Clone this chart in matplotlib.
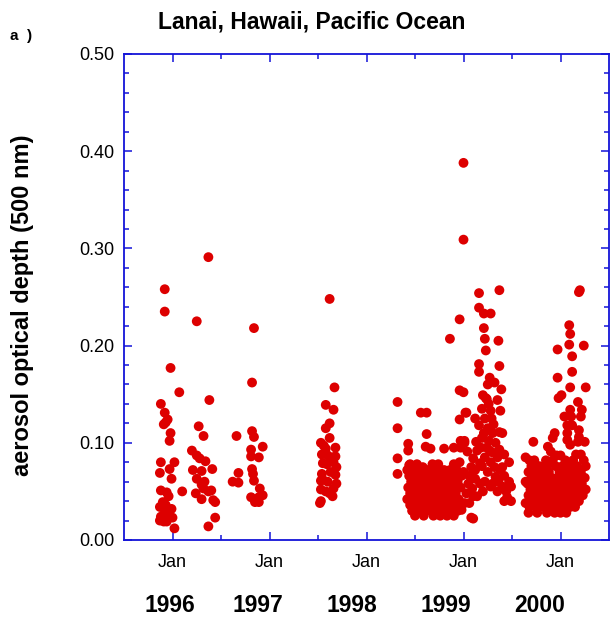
import matplotlib
matplotlib.use("Agg")
import matplotlib.pyplot as plt
from matplotlib.ticker import MultipleLocator, FixedLocator

# decimal year / aerosol optical depth, one list per season
t_1996 = [1995.92, 1995.92, 1995.98, 1996.07, 1995.88, 1995.92, 1995.95, 1995.93, 1995.91,
          1995.98, 1995.97, 1995.88, 1996.02, 1995.97, 1995.87, 1995.99, 1996.10, 1995.88,
          1995.94, 1995.96, 1995.90, 1995.93, 1995.87, 1995.99, 1995.92, 1995.96, 1995.88,
          1996.00, 1995.94, 1995.87, 1995.91, 1996.02,
          1996.37, 1996.25, 1996.38, 1996.27, 1996.32, 1996.20, 1996.25, 1996.28, 1996.34,
          1996.41, 1996.21, 1996.30, 1996.25, 1996.33, 1996.30, 1996.24, 1996.32, 1996.37,
          1996.40, 1996.30, 1996.42, 1996.44, 1996.44, 1996.37]
aod_1996 = [0.258, 0.235, 0.177, 0.152, 0.140, 0.131, 0.124, 0.121, 0.119,
            0.110, 0.102, 0.080, 0.080, 0.073, 0.069, 0.063, 0.050, 0.051,
            0.049, 0.045, 0.039, 0.036, 0.034, 0.032, 0.028, 0.025, 0.024,
            0.023, 0.019, 0.020, 0.019, 0.012,
            0.291, 0.225, 0.144, 0.117, 0.107, 0.092, 0.087, 0.084, 0.081,
            0.073, 0.072, 0.071, 0.063, 0.060, 0.057, 0.048, 0.053, 0.050,
            0.051, 0.042, 0.041, 0.039, 0.023, 0.014]

t_1997 = [1996.84, 1996.82, 1996.66, 1996.82, 1996.84, 1996.93, 1996.81, 1996.81, 1996.89,
          1996.82, 1996.83, 1996.68, 1996.62, 1996.68, 1996.84, 1996.90, 1996.93, 1996.89,
          1996.81, 1996.85, 1996.89,
          1997.62, 1997.67, 1997.58, 1997.66, 1997.62, 1997.58, 1997.62, 1997.53, 1997.56,
          1997.68, 1997.58, 1997.54, 1997.68, 1997.60, 1997.65, 1997.55, 1997.66, 1997.69,
          1997.59, 1997.54, 1997.63, 1997.68, 1997.53, 1997.60, 1997.69, 1997.55, 1997.53,
          1997.58, 1997.66, 1997.62, 1997.65, 1997.52, 1997.53]
aod_1997 = [0.218, 0.162, 0.107, 0.112, 0.106, 0.096, 0.093, 0.086, 0.085,
            0.073, 0.068, 0.069, 0.060, 0.059, 0.061, 0.053, 0.046, 0.044,
            0.044, 0.039, 0.039,
            0.248, 0.157, 0.139, 0.134, 0.120, 0.115, 0.105, 0.100, 0.097,
            0.095, 0.094, 0.088, 0.086, 0.087, 0.085, 0.079, 0.080, 0.075,
            0.078, 0.068, 0.070, 0.067, 0.061, 0.060, 0.058, 0.062, 0.052,
            0.050, 0.053, 0.048, 0.045, 0.038, 0.040]

t_1999 = [1998.32, 1998.32, 1998.32, 1998.32, 1998.56, 1998.62, 1998.62, 1998.43, 1998.43,
          1998.61, 1998.66, 1998.44, 1998.49, 1998.58, 1998.80,
          1998.96, 1998.86, 1998.96, 1999.00, 1999.03, 1998.96, 1998.97, 1999.01, 1998.90,
          1998.97, 1999.00, 1999.00,
          1999.16, 1999.37, 1999.16, 1999.21, 1999.28, 1999.21, 1999.22, 1999.23, 1999.36,
          1999.16, 1999.16, 1999.37, 1999.27, 1999.32, 1999.25, 1999.39, 1999.20, 1999.23,
          1999.35, 1999.19, 1999.28, 1999.38, 1999.02, 1999.16, 1999.31, 1999.37, 1999.40,
          1999.19, 1999.26, 1999.33, 1999.01, 1999.13, 1999.14, 1999.04, 1999.37, 1999.42,
          1999.47, 1999.10, 1999.17, 1999.19, 1998.96, 1999.00, 1999.06, 1999.12, 1999.38,
          1999.42, 1999.47, 1999.49, 1999.17, 1999.09, 1999.28, 1999.45, 1999.42, 1999.49,
          1999.03, 1999.01, 1999.06, 1999.08, 1999.10, 1998.96, 1998.98,
          1999.12, 1999.22, 1999.25, 1999.30, 1999.24, 1999.30, 1999.35, 1999.40, 1999.28,
          1999.22, 1999.18, 1999.08, 1999.12, 1999.25, 1999.33, 1999.30, 1999.22, 1999.20,
          1999.14, 1999.35, 1999.40, 1999.44, 1999.05, 1999.10, 1999.24, 1999.26, 1999.29,
          1999.21, 1999.27, 1999.32, 1999.36,
          1998.45, 1998.52, 1998.68, 1998.74, 1998.90,
          1998.42, 1998.55, 1998.63, 1998.72, 1998.80, 1998.86, 1998.93,
          1998.44, 1998.50, 1998.57, 1998.65, 1998.70, 1998.77, 1998.84, 1998.91, 1998.98,
          1998.46, 1998.53, 1998.60, 1998.66, 1998.73, 1998.79, 1998.87, 1998.94,
          1998.43, 1998.49, 1998.56, 1998.62, 1998.69, 1998.75, 1998.82, 1998.89, 1998.97,
          1998.45, 1998.52, 1998.59, 1998.65, 1998.71, 1998.78, 1998.85, 1998.92,
          1998.42, 1998.48, 1998.55, 1998.61, 1998.68, 1998.74, 1998.81, 1998.88, 1998.95,
          1998.45, 1998.51, 1998.58, 1998.64, 1998.70, 1998.77, 1998.84, 1998.91,
          1998.47, 1998.54, 1998.62, 1998.67, 1998.73, 1998.80, 1998.87, 1998.94,
          1998.50, 1998.59, 1998.69, 1998.76, 1998.83, 1998.90]
aod_1999 = [0.142, 0.115, 0.084, 0.068, 0.131, 0.131, 0.109, 0.099, 0.092,
            0.096, 0.094, 0.077, 0.072, 0.075, 0.094,
            0.227, 0.207, 0.154, 0.152, 0.131, 0.124, 0.102, 0.102, 0.095,
            0.095, 0.388, 0.309,
            0.254, 0.257, 0.239, 0.233, 0.233, 0.218, 0.207, 0.195, 0.205,
            0.181, 0.173, 0.179, 0.167, 0.162, 0.160, 0.155, 0.149, 0.146,
            0.144, 0.135, 0.133, 0.133, 0.131, 0.118, 0.119, 0.111, 0.110,
            0.105, 0.102, 0.100, 0.100, 0.101, 0.092, 0.091, 0.093, 0.088,
            0.080, 0.084, 0.079, 0.076, 0.080, 0.070, 0.066, 0.063, 0.072,
            0.066, 0.060, 0.055, 0.058, 0.053, 0.055, 0.044, 0.040, 0.040,
            0.048, 0.038, 0.038, 0.023, 0.022, 0.038, 0.031,
            0.125, 0.125, 0.115, 0.110, 0.095, 0.090, 0.085, 0.075, 0.080,
            0.085, 0.095, 0.075, 0.072, 0.070, 0.065, 0.058, 0.060, 0.050,
            0.045, 0.050, 0.055, 0.050, 0.058, 0.045, 0.145, 0.140, 0.125,
            0.110, 0.092, 0.075, 0.060,
            0.078, 0.078, 0.078, 0.078, 0.078,
            0.072, 0.072, 0.072, 0.072, 0.072, 0.072, 0.072,
            0.066, 0.066, 0.066, 0.066, 0.066, 0.066, 0.066, 0.066, 0.066,
            0.060, 0.060, 0.060, 0.060, 0.060, 0.060, 0.060, 0.060,
            0.054, 0.054, 0.054, 0.054, 0.054, 0.054, 0.054, 0.054, 0.054,
            0.048, 0.048, 0.048, 0.048, 0.048, 0.048, 0.048, 0.048,
            0.042, 0.042, 0.042, 0.042, 0.042, 0.042, 0.042, 0.042, 0.042,
            0.036, 0.036, 0.036, 0.036, 0.036, 0.036, 0.036, 0.036,
            0.030, 0.030, 0.030, 0.030, 0.030, 0.030, 0.030, 0.030,
            0.025, 0.025, 0.025, 0.025, 0.025, 0.025]

t_2000 = [2000.19, 2000.20, 2000.09, 2000.10, 2000.09, 2000.12, 1999.97, 2000.24, 1999.97,
          2000.12, 2000.10, 2000.26, 2000.01, 1999.98, 2000.18, 2000.10, 2000.22, 2000.11,
          2000.21, 2000.04, 2000.07, 2000.12, 2000.19, 2000.19, 2000.07, 2000.07, 1999.94,
          1999.92, 2000.25, 2000.18, 2000.10, 1999.72, 1999.87, 1999.90, 1999.96, 2000.00,
          2000.21, 2000.16, 1999.64, 1999.64, 1999.64,
          1999.68, 1999.73, 1999.85, 1999.92, 2000.05, 2000.13, 2000.24,
          1999.70, 1999.78, 1999.86, 1999.95, 2000.02, 2000.09, 2000.17, 2000.26,
          1999.67, 1999.74, 1999.81, 1999.88, 1999.99, 2000.06, 2000.14, 2000.21,
          1999.70, 1999.77, 1999.84, 1999.91, 1999.97, 2000.04, 2000.11, 2000.18, 2000.25,
          1999.66, 1999.73, 1999.80, 1999.87, 1999.94, 2000.01, 2000.08, 2000.15, 2000.22,
          1999.69, 1999.76, 1999.83, 1999.90, 1999.97, 2000.04, 2000.11, 2000.18, 2000.26,
          1999.67, 1999.74, 1999.81, 1999.88, 1999.95, 2000.02, 2000.09, 2000.16, 2000.23,
          1999.70, 1999.77, 1999.84, 1999.91, 1999.98, 2000.05, 2000.12, 2000.19,
          1999.68, 1999.75, 1999.82, 1999.89, 1999.96, 2000.03, 2000.10, 2000.15,
          1999.67, 1999.76, 1999.86, 1999.94, 2000.00, 2000.06]
aod_2000 = [0.255, 0.257, 0.221, 0.212, 0.201, 0.189, 0.196, 0.200, 0.167,
            0.173, 0.157, 0.157, 0.149, 0.146, 0.142, 0.134, 0.134, 0.127,
            0.127, 0.127, 0.118, 0.118, 0.113, 0.106, 0.110, 0.103, 0.110,
            0.105, 0.101, 0.101, 0.098, 0.101, 0.096, 0.091, 0.087, 0.087,
            0.088, 0.088, 0.085, 0.060, 0.038,
            0.082, 0.082, 0.082, 0.082, 0.082, 0.082, 0.082,
            0.076, 0.076, 0.076, 0.076, 0.076, 0.076, 0.076, 0.076,
            0.070, 0.070, 0.070, 0.070, 0.070, 0.070, 0.070, 0.070,
            0.064, 0.064, 0.064, 0.064, 0.064, 0.064, 0.064, 0.064, 0.064,
            0.058, 0.058, 0.058, 0.058, 0.058, 0.058, 0.058, 0.058, 0.058,
            0.052, 0.052, 0.052, 0.052, 0.052, 0.052, 0.052, 0.052, 0.052,
            0.046, 0.046, 0.046, 0.046, 0.046, 0.046, 0.046, 0.046, 0.046,
            0.040, 0.040, 0.040, 0.040, 0.040, 0.040, 0.040, 0.040,
            0.034, 0.034, 0.034, 0.034, 0.034, 0.034, 0.034, 0.034,
            0.028, 0.028, 0.028, 0.028, 0.028, 0.028]

years = ["1996", "1997", "1998", "1999", "2000"]
year_label_x = [1995.97, 1996.88, 1997.85, 1998.82, 1999.79]
jan_ticks = [1996, 1997, 1998, 1999, 2000]

plt.rcParams["font.family"] = ["Liberation Sans", "DejaVu Sans"]
blue = "#1414d8"
red = "#dd0000"

fig = plt.figure(figsize=(6.10, 6.24), dpi=100)
ax = fig.add_axes([124 / 610, 84 / 624, 485 / 610, 486 / 624])

for t, a in [(t_1996, aod_1996), (t_1997, aod_1997), (t_1999, aod_1999), (t_2000, aod_2000)]:
    ax.scatter(t, a, s=50, color=red, edgecolors="none", zorder=3)

ax.set_xlim(1995.5, 2000.5)
ax.set_ylim(0, 0.5)
ax.xaxis.set_major_locator(FixedLocator(jan_ticks))
ax.xaxis.set_minor_locator(FixedLocator([1996.5, 1997.5, 1998.5, 1999.5]))
ax.set_xticklabels(["Jan"] * len(jan_ticks))
ax.yaxis.set_major_locator(MultipleLocator(0.1))
ax.yaxis.set_minor_locator(MultipleLocator(0.02))
ax.yaxis.set_major_formatter(plt.FuncFormatter(lambda v, p: "%.2f" % v))

for s in ax.spines.values():
    s.set_color(blue)
    s.set_linewidth(1.3)
ax.tick_params(which="both", direction="in", top=True, right=True, color=blue,
               labelsize=13, labelcolor="black")
ax.tick_params(which="major", length=6, width=1.1)
ax.tick_params(which="minor", length=3.5, width=1.1)
ax.tick_params(axis="x", which="major", pad=10)
ax.tick_params(axis="y", which="major", pad=7)

ax.set_ylabel("aerosol optical depth (500 nm)", fontsize=17, fontweight="bold")
ax.yaxis.set_label_coords(-0.186, 0.484)

for lab, xp in zip(years, year_label_x):
    ax.text(xp, -0.067, lab, transform=ax.transData, ha="center", va="center",
            fontsize=16.5, fontweight="bold", clip_on=False)

fig.text(312 / 610, 1 - 22 / 624, "Lanai, Hawaii, Pacific Ocean", ha="center", va="center",
         fontsize=16.5, fontweight="bold")
fig.text(10 / 610, 1 - 36 / 624, "a  )", ha="left", va="center", fontsize=11, fontweight="bold")

fig.savefig("out.png", dpi=100)
